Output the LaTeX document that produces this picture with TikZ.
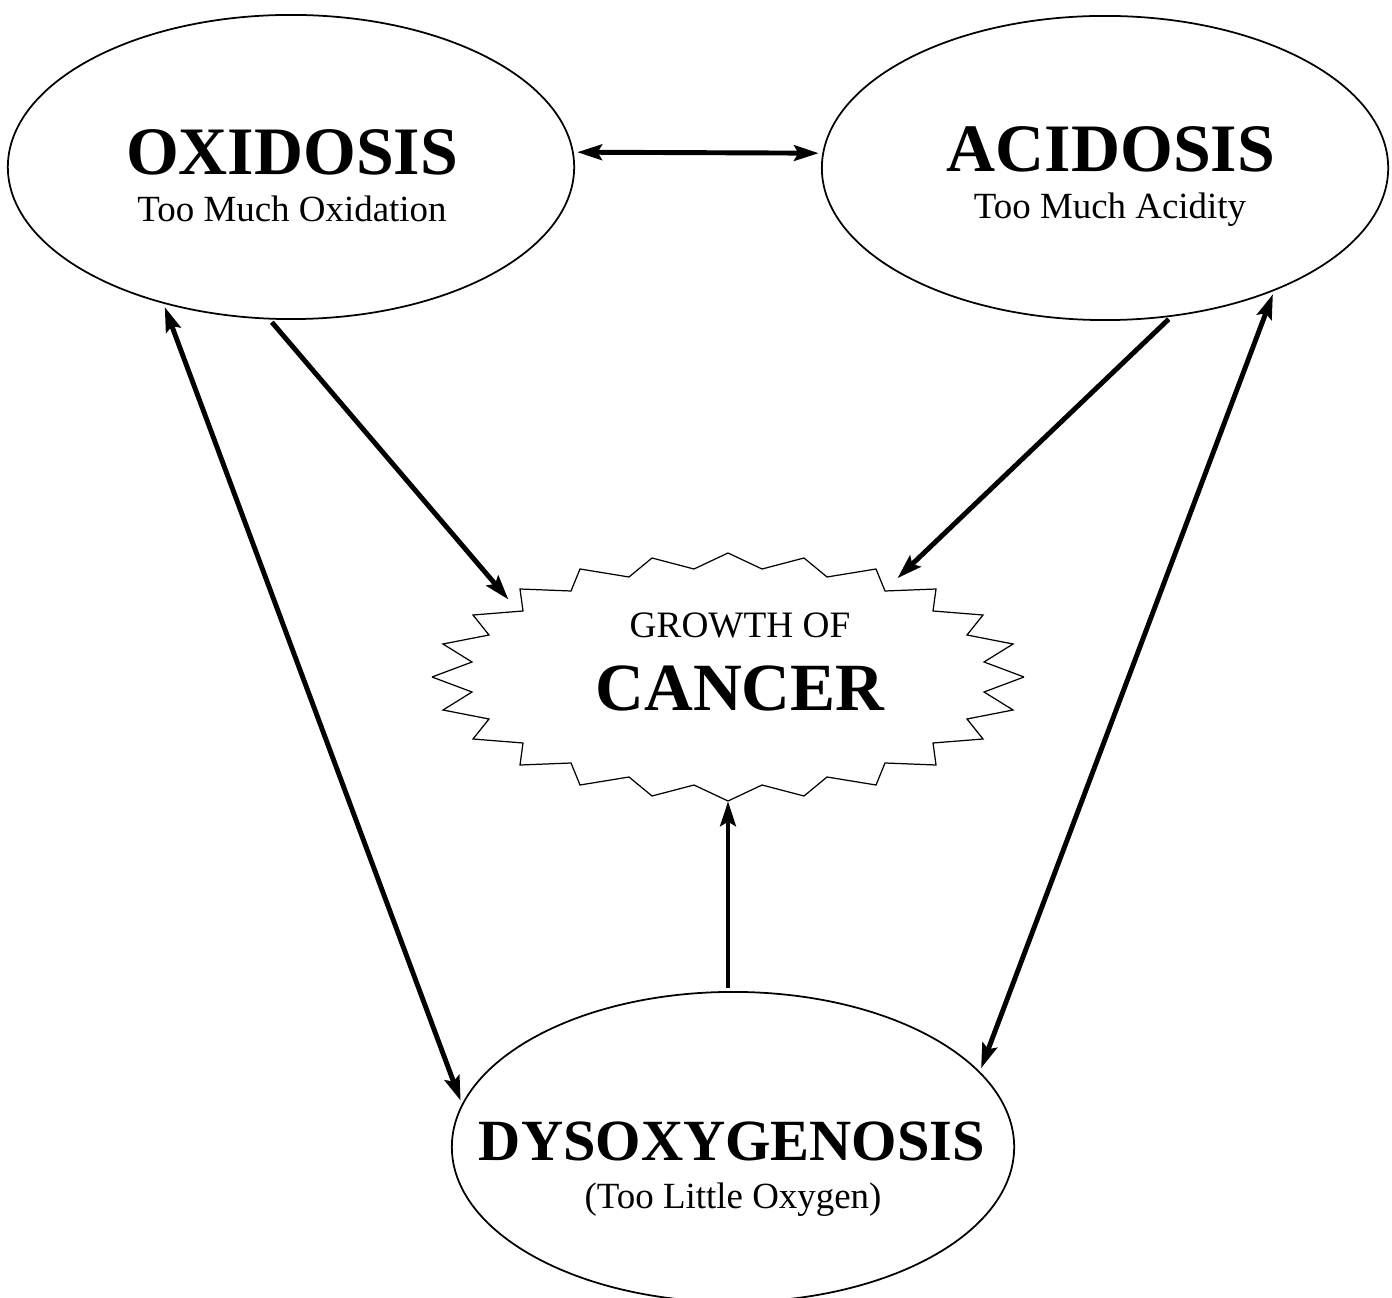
\documentclass[tikz,border=0pt]{standalone}
\usepackage{fontspec}
\setmainfont{Liberation Serif}
\usetikzlibrary{arrows.meta, shapes.geometric}

\begin{document}
\begin{tikzpicture}[x=0.01cm, y=-0.01cm,
    blob/.style={ellipse, draw, line width=0.5pt, inner sep=0pt},
    bigname/.style={anchor=base, font=\fontsize{19.3pt}{23pt}\selectfont\bfseries},
    subname/.style={anchor=base, font=\fontsize{10.5pt}{13pt}\selectfont},
    burst/.style={line width=0.35pt, line join=miter},
    link/.style={line width=1.4pt, shorten <=1pt, shorten >=1pt},
    >={Stealth[length=7pt, width=4.4pt, inset=1.2pt]}]
  \useasboundingbox (0,0) rectangle (1392,1298);

  % The three conditions
  \node[blob, minimum width=5.66cm, minimum height=3.04cm] (oxi) at (291,167) {};
  \node[blob, minimum width=5.66cm, minimum height=3.04cm] (aci) at (1105,168) {};
  \node[blob, minimum width=5.62cm, minimum height=3.10cm] (dys) at (733,1147) {};

  \node[bigname] (oxiname) at (292,175) {OXIDOSIS};
  \node[subname] (oxisub)  at (292,222) {Too Much Oxidation};
  \node[bigname] (aciname) at (1111,172) {ACIDOSIS};
  \node[subname] (acisub)  at (1110,219) {Too Much Acidity};
  \node[bigname, font=\fontsize{16.6pt}{20pt}\selectfont\bfseries] (dysname) at (732,1160) {DYSOXYGENOSIS};
  \node[subname] (dyssub)  at (733,1208) {(Too Little Oxygen)};

  % Starburst (one quarter, mirrored)
  \node[ellipse, minimum width=5.52cm, minimum height=2.4cm] (cancer) at (728,677) {};
  \foreach \sx/\sy in {1/1, -1/1, 1/-1, -1/-1}
    \draw[burst, shift={(cancer.center)}, xscale=\sx, yscale=\sy]
      plot coordinates {(-296,0) (-256,-15) (-285,-33) (-239,-42) (-255,-62)
        (-205,-66) (-208,-88) (-157,-86) (-148,-108) (-99,-100) (-76,-119)
        (-34,-108) (0,-124)};
  \node[subname, font=\fontsize{10.6pt}{13pt}\selectfont] (growth) at (740,637) {GROWTH OF};
  \node[bigname, font=\fontsize{19.2pt}{23pt}\selectfont\bfseries] (cancername) at (740,710) {CANCER};

  % Arrows
  \draw[link, <->] (oxi.3) -- (aci.177);
  \draw[link, ->] (oxi.262) -- (cancer.161);
  \draw[link, ->] (aci.294) -- (cancer.30);
  \draw[link, ->] (cancer.south |- dys.north) -- (cancer.south);
  \draw[link, <->] (oxi.227) -- (dys.171);
  \draw[link, <->] (aci.324) -- (dys.17);

\end{tikzpicture}
\end{document}
